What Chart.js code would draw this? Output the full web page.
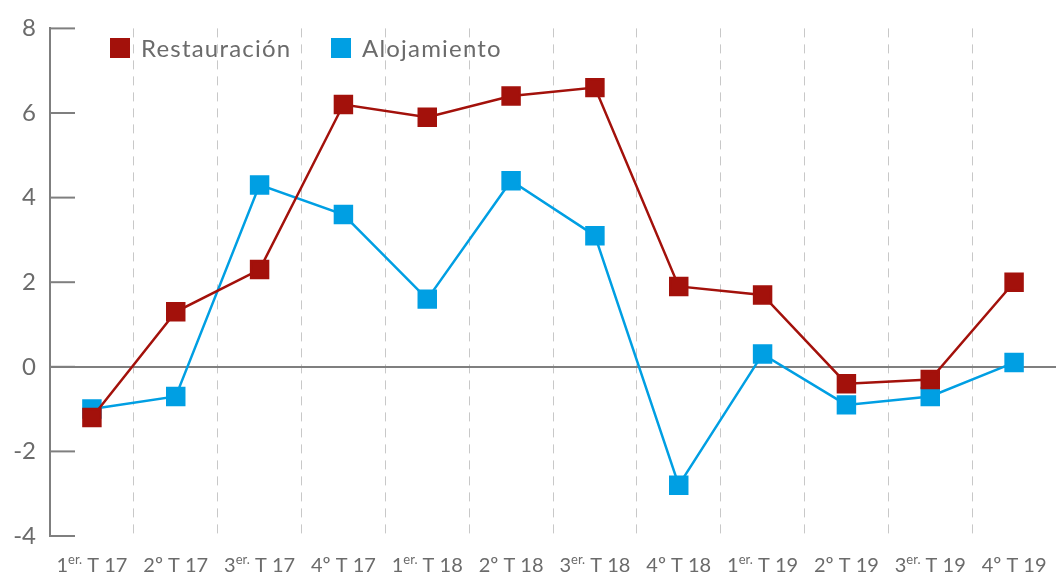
<!DOCTYPE html>
<html>
<head>
<meta charset="utf-8">
<script src="https://cdn.jsdelivr.net/npm/chart.js@4"></script>
<style>
  body { margin: 0; background: #fff; }
  #wrap { width: 1056px; height: 576px; }
</style>
</head>
<body>
<div id="wrap"><canvas id="chart"></canvas></div>
<script>
let quarters = ["1er.", "2º", "3er.", "4º", "1er.", "2º", "3er.", "4º", "1er.", "2º", "3er.", "4º"];
let years = ["17", "17", "17", "17", "18", "18", "18", "18", "19", "19", "19", "19"];
let labels = quarters.map((q, i) => q + " T " + years[i]);

let restauracion = [-1.2, 1.3, 2.3, 6.2, 5.9, 6.4, 6.6, 1.9, 1.7, -0.4, -0.3, 2.0];
let alojamiento = [-1.0, -0.7, 4.3, 3.6, 1.6, 4.4, 3.1, -2.8, 0.3, -0.9, -0.7, 0.1];

let yTicks = [-4, -2, 0, 2, 4, 6, 8];

const FONT = "Lato, 'Open Sans', sans-serif";
const GRAY = "#6b6b6b";
const AXIS = "#7f7f7f";

// short inward ticks on y axis, legend, and x labels with superscripts
const extras = {
    id: "extras",
    afterDraw(c) {
        let ctx = c.ctx;
        let y = c.scales.y, x = c.scales.x;
        let left = c.chartArea.left;
        ctx.save();
        ctx.strokeStyle = AXIS;
        ctx.lineWidth = 2;
        yTicks.forEach(v => {
            let py = y.getPixelForValue(v);
            ctx.beginPath();
            ctx.moveTo(left, py);
            ctx.lineTo(left + 25, py);
            ctx.stroke();
        });

        // legend
        let lx = [110, 331];
        ctx.letterSpacing = "1.2px";
        c.data.datasets.forEach((ds, i) => {
            ctx.fillStyle = ds.backgroundColor;
            ctx.fillRect(lx[i], 38, 20, 20);
            ctx.fillStyle = GRAY;
            ctx.font = "24px " + FONT;
            ctx.textAlign = "left";
            ctx.textBaseline = "middle";
            ctx.fillText(ds.label, lx[i] + 31, 49);
        });
        ctx.letterSpacing = "0px";

        ctx.fillStyle = GRAY;
        ctx.textBaseline = "alphabetic";
        let base = 572;
        labels.forEach((lab, i) => {
            let m = quarters[i].match(/^(\d)(er\.)?(º)?$/);
            let num = m[1], sup = m[2] || "", ord = m[3] || "";
            let rest = " T " + years[i];
            ctx.font = "20px " + FONT;
            let w1 = ctx.measureText(num + ord).width;
            let w3 = ctx.measureText(rest).width;
            ctx.font = "13px " + FONT;
            let w2 = ctx.measureText(sup).width;
            let total = w1 + w2 + w3;
            let px = x.getPixelForValue(i) - total / 2;
            ctx.font = "20px " + FONT;
            ctx.textAlign = "left";
            ctx.fillText(num + ord, px, base);
            ctx.font = "13px " + FONT;
            ctx.fillText(sup, px + w1, base - 8);
            ctx.font = "20px " + FONT;
            ctx.fillText(rest, px + w1 + w2, base);
        });
        ctx.restore();
    }
};

chart = new Chart(document.getElementById("chart"), {
    type: "line",
    data: {
        labels: labels,
        datasets: [{
            label: "Restauración",
            data: restauracion,
            borderColor: "#a3110b",
            backgroundColor: "#a3110b",
            borderWidth: 2.5,
            pointStyle: "rect",
            pointRadius: 12,
            pointHoverRadius: 12,
            tension: 0
        }, {
            label: "Alojamiento",
            data: alojamiento,
            borderColor: "#009fe3",
            backgroundColor: "#009fe3",
            borderWidth: 2.5,
            pointStyle: "rect",
            pointRadius: 12,
            pointHoverRadius: 12,
            tension: 0
        }]
    },
    options: {
        responsive: true,
        maintainAspectRatio: false,
        animation: false,
        layout: { padding: { top: 25, right: 0, left: 0, bottom: 0 }, autoPadding: false },
        plugins: {
            tooltip: { enabled: false },
            legend: { display: false }
        },
        scales: {
            x: {
                offset: true,
                grid: {
                    offset: true,
                    drawTicks: false,
                    color: "#c8c8c8",
                    lineWidth: 1
                },
                border: { display: false, dash: [9, 7] },
                ticks: { display: false },
                afterFit(s) { s.height = 40; }
            },
            y: {
                min: -4,
                max: 8,
                afterBuildTicks(s) { s.ticks = yTicks.map(v => ({ value: v })); },
                border: { display: true, color: AXIS, width: 2 },
                grid: {
                    drawTicks: false,
                    color: ctx => ctx.tick && ctx.tick.value === 0 ? AXIS : "rgba(0,0,0,0)",
                    lineWidth: 2
                },
                ticks: {
                    color: GRAY,
                    font: { family: FONT, size: 24 },
                    padding: 14
                },
                afterFit(s) { s.width = 50; }
            }
        }
    },
    plugins: [extras]
});
</script>
</body>
</html>
